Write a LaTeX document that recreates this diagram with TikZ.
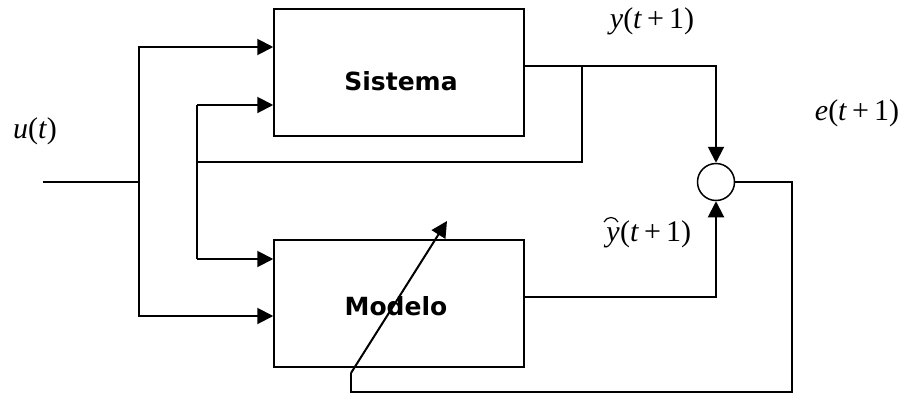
\documentclass[tikz,border=0pt]{standalone}
\usepackage{fontspec}
\newfontfamily\tnr{Liberation Serif}
\newfontfamily\blk{DejaVu Sans}
\usetikzlibrary{arrows.meta}
\begin{document}
\begin{tikzpicture}[x=1pt,y=-1pt,
  blockbox/.style={draw,line width=1.5pt,minimum width=250pt,minimum height=127pt,inner sep=0pt},
  title/.style={font=\blk\bfseries\fontsize{25}{25}\selectfont,inner sep=0pt},
  wire/.style={line width=2pt},
  arr/.style={wire,-{Triangle[length=16pt,width=16pt]}},
  lbl/.style={font=\tnr\fontsize{30}{30}\selectfont,inner sep=0pt}]
\useasboundingbox (0,0) rectangle (905,394);
\node[blockbox] (sis) at (399,72.5) {};
\node[title] (sist) at (401,81) {Sistema};
\node[blockbox] (mod) at (399,303.5) {};
\node[title] (modt) at (396,306) {Modelo};
\node[draw,circle,line width=1.5pt,minimum size=37pt,inner sep=0pt] (sum) at (716,182) {};
\coordinate (in) at (43,182);
\coordinate (j1) at (139,182);
\coordinate (j2) at (197,162);
\coordinate (j3) at (582,66);
\coordinate (fb1) at (792,392);
\coordinate (fb2) at (351,392);
\coordinate (fb3) at (351,373);
\coordinate (tip) at (447,221);
% input distribution
\draw[wire] (in) -- (j1);
\draw[arr] (j1) |- (sis.west |- 0,47);
\draw[arr] (j1) |- (mod.west |- 0,316);
% system output
\draw[wire] (sis.east |- 0,66) -- (j3);
\draw[arr] (j3) -| (sum.north);
\draw[wire] (j3) |- (j2);
\draw[wire] (197,105) -- (197,259);
\draw[arr] (197,105) -- (sis.west |- 0,105);
\draw[arr] (197,259) -- (mod.west |- 0,259);
% model output
\draw[arr] (mod.east |- 0,297) -| (sum.south);
% error feedback
\draw[wire] (sum.east) -| (fb1) -- (fb2) -- (fb3);
\draw[arr,line join=round] (fb3) -- (tip);
% labels
\node[lbl] (ul) at (35,131) {\textit{u}(\textit{t})};
\node[lbl] (yl) at (652,21) {\textit{y}(\textit{t}\,+\,1)};
\node[lbl] (el) at (857,113) {\textit{e}(\textit{t}\,+\,1)};
\node[lbl,anchor=base west] (yhr) at (620,241) {(\textit{t}\,+\,1)};
\node[lbl,anchor=base east] (yhy) at (yhr.base west) {\textit{y}};
\draw[line width=1.2pt] ([shift={(-16,-19)}]yhr.base west) .. controls ([shift={(-13,-25)}]yhr.base west) and ([shift={(-5,-25)}]yhr.base west) .. ([shift={(-2,-19)}]yhr.base west);
\end{tikzpicture}
\end{document}
